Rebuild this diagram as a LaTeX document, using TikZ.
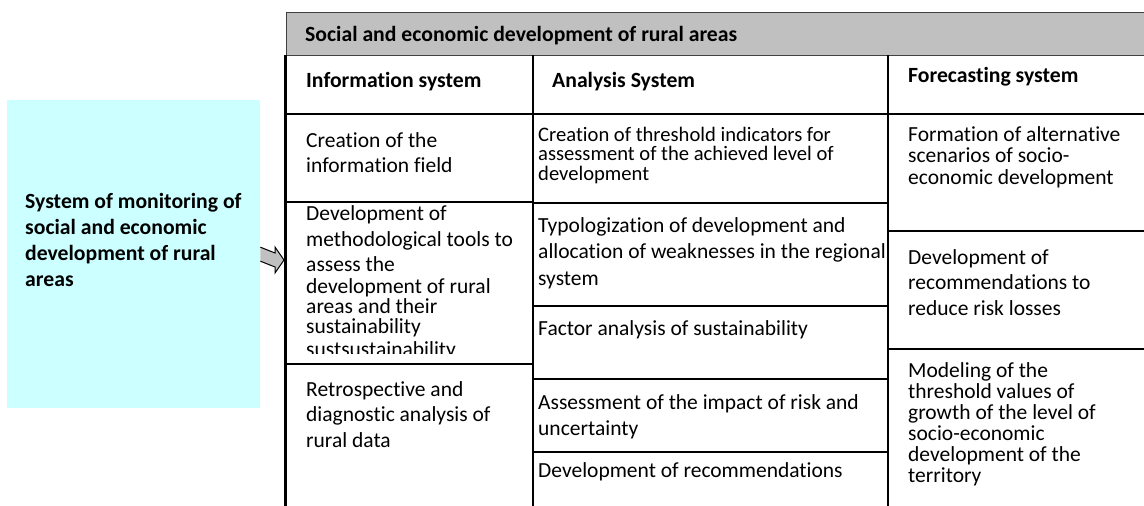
\documentclass[tikz,border=0pt]{standalone}
\usepackage{fontspec}
\setmainfont{Carlito}[Ligatures=NoCommon]
\usetikzlibrary{calc}
\definecolor{hdrgrey}{HTML}{C0C0C0}
\definecolor{lcyan}{HTML}{CCFFFF}
\begin{document}
\begin{tikzpicture}[x=1pt,y=-1pt,
  gridline/.style={line width=2.9pt, black},
  txt/.style={anchor=base west, inner sep=0pt, align=left},
  fs/.style={font=\fontsize{21.5}{#1}\selectfont},
  fss/.style={font=\fontsize{20.6}{#1}\selectfont},
  bfs/.style={font=\fontsize{21.7}{#1}\selectfont\bfseries},
  arrowshape/.style={draw=black, line width=1pt, fill=hdrgrey, line join=miter}]
\useasboundingbox (0,0) rectangle (1144,506);

% left box
\node[fill=lcyan, draw=none, minimum width=253pt, minimum height=308pt, anchor=north west, inner sep=0pt] (mon) at (7,100) {};
\node[txt, bfs=26] (monText) at (25,286) {System of monitoring of\\social and economic\\development of rural\\areas};

% header box
\node[fill=hdrgrey, draw=black!75, line width=1.2pt, minimum width=870pt, minimum height=43.5pt, anchor=north west, inner sep=0pt] (hdr) at (285.5,11.5) {};
\node[txt, bfs=25] (title) at (305,41) {Social and economic development of rural areas};

% grid coordinates
\coordinate (c0t) at (285.5,55);  \coordinate (c0b) at (285.5,506);
\coordinate (c1t) at (533,55);    \coordinate (c1b) at (533,506);
\coordinate (c2t) at (888,55);    \coordinate (c2b) at (888,506);

% column headers
\node[txt, bfs=25] (hInfo) at (306,87) {Information system};
\node[txt, bfs=25] (hAna) at (552,87) {Analysis System};
\node[txt, bfs=25] (hFc) at (908,82) {Forecasting system};

% information column
\node[txt, fs=25] (i1) at (306,172) {Creation of the\\information field};
\begin{scope}
  \clip (285.5,203) rectangle (533,353);
  \node[txt, fs=20] (i2) at (306,356) {Development of\\[6pt]methodological tools to\\[5pt]assess the\\[2pt]development of rural\\areas and their\\sustainability\\[3pt]sustsustainability};
\end{scope}
\node[txt, fs=25.5] (i3) at (306,447) {Retrospective and\\diagnostic analysis of\\rural data};

% analysis column
\node[txt, fss=19.5] (a1) at (538,180) {Creation of threshold indicators for\\assessment of the achieved level of\\development};
\node[txt, fs=26.5] (a2) at (538,285) {Typologization of development and\\allocation of weaknesses in the regional\\system};
\node[txt, fs=25] (a3) at (538,335) {Factor analysis of sustainability};
\node[txt, fs=26] (a4) at (538,435) {Assessment of the impact of risk and\\uncertainty};
\node[txt, fs=25] (a5) at (538,477) {Development of recommendations};

% forecasting column
\node[txt, fs=21.5] (f1) at (908,184) {Formation of alternative\\scenarios of socio-\\economic development};
\node[txt, fs=25.5] (f2) at (908,315) {Development of\\recommendations to\\reduce risk losses};
\node[txt, fs=21] (f3) at (908,482) {Modeling of the\\threshold values of\\growth of the level of\\socio-economic\\development of the\\territory};

% grid lines
\draw[gridline] (c0t) -- (c0b);
\draw[gridline] (c1t) -- (c1b);
\draw[gridline] (c2t) -- (c2b);
\draw[gridline] (285.5,114) -- (1150,114);
\draw[gridline] (285.5,202) -- (533,202);
\draw[gridline] (285.5,364) -- (533,364);
\draw[gridline] (533,203) -- (888,203);
\draw[gridline] (533,306) -- (888,306);
\draw[gridline] (533,379) -- (888,379);
\draw[gridline] (533,452) -- (888,452);
\draw[gridline] (888,231) -- (1150,231);
\draw[gridline] (888,349) -- (1150,349);

% block arrow from monitoring box to table
\coordinate (arrTip) at (284,260);
\draw[arrowshape] ($(mon.east)+(0,-7)$) -- (275,253) -- (275,247) -- (arrTip) -- (275,273) -- (275,267) -- ($(mon.east)+(0,7)$);
\end{tikzpicture}
\end{document}
